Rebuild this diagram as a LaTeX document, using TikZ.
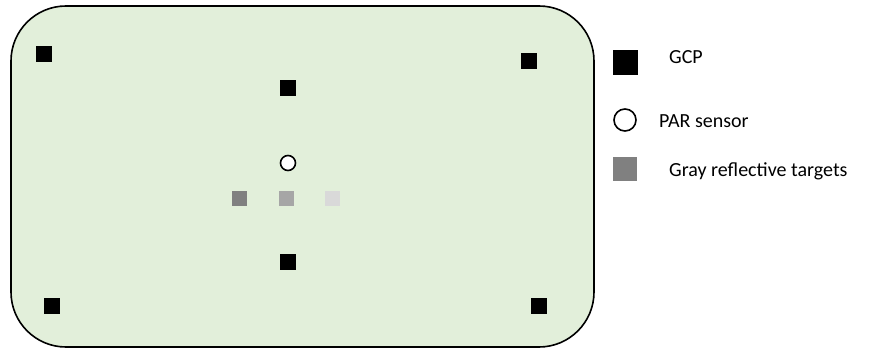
\documentclass[tikz,border=0pt]{standalone}
\usepackage{fontspec}
\setmainfont{Carlito}
\definecolor{fieldgreen}{HTML}{E2EFDA}
\definecolor{darkgraytarget}{HTML}{808080}
\definecolor{midgraytarget}{HTML}{A6A6A6}
\definecolor{lightgraytarget}{HTML}{D9D9D9}
\usepackage{tikz}
\usetikzlibrary{positioning, shapes.geometric}
\tikzset{
	fieldnode/.style={
			rectangle,
			draw=black,
			line width=1.6pt,
			fill=fieldgreen,
			rounded corners=55pt,
			minimum width=583pt,
			minimum height=341pt,
			inner sep=0pt
		},
	gcpnode/.style={
			rectangle,
			fill=black,
			minimum size=16pt,
			inner sep=0pt
		},
	sensornode/.style={
			circle,
			draw=black,
			line width=1.6pt,
			fill=white,
			minimum size=15pt,
			inner sep=0pt
		},
	targetnode/.style={
			rectangle,
			minimum size=15pt,
			inner sep=0pt
		},
	legendtext/.style={
			anchor=west,
			inner sep=0pt,
			font=\fontsize{20pt}{24pt}\selectfont
		}
}
\begin{document}
\begin{tikzpicture}[x=1pt, y=-1pt]
\useasboundingbox (0,0) rectangle (878,350);
\node[fieldnode] (field) at (302.5,176.5) {};

% ground control points
\node[gcpnode] (g1) at (44,54) {};
\node[gcpnode] (g2) at (529,61) {};
\node[gcpnode] (g3) at (288,88) {};
\node[gcpnode] (g4) at (288,262) {};
\node[gcpnode] (g5) at (52,306) {};
\node[gcpnode] (g6) at (539,306) {};

\node[sensornode] (par) at (288,163) {};

\node[targetnode, fill=darkgraytarget] (t1) at (239,198) {};
\node[targetnode, fill=midgraytarget] (t2) at (286,198) {};
\node[targetnode, fill=lightgraytarget] (t3) at (332,198) {};

% legend
\node[gcpnode, minimum size=25pt] (lg1) at (625,63) {};
\node[sensornode, minimum size=22pt] (lg2) at (625,120) {};
\node[targetnode, fill=darkgraytarget, minimum size=24pt] (lg3) at (625,169) {};
\node[legendtext] (lt1) at (669,57) {GCP};
\node[legendtext] (lt2) at (659,121) {PAR sensor};
\node[legendtext] (lt3) at (669,171) {Gray reflective targets};
\end{tikzpicture}
\end{document}
